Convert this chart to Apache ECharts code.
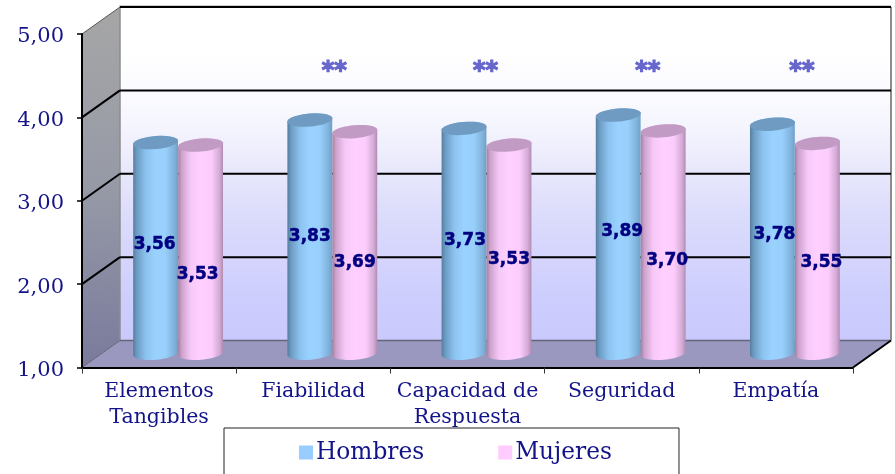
<!DOCTYPE html>
<html><head><meta charset="utf-8">
<style>html,body{margin:0;padding:0;background:#fff}#c{width:895px;height:474px}</style>
<script src="https://cdn.jsdelivr.net/npm/echarts@6/dist/echarts.min.js"></script>
</head><body><div id="c"></div>
<script>
var categories = ['Elementos\nTangibles','Fiabilidad','Capacidad de\nRespuesta','Seguridad','Empatía'];
var hombres = [3.56,3.83,3.73,3.89,3.78];
var mujeres = [3.53,3.69,3.53,3.70,3.55];
var significance = ['','**','**','**','**'];
var yTicks = [1,2,3,4,5];

// label nudges (pixels) relative to the middle of each cylinder
var hombresNudge = [[-1,-3],[0,1],[1,0],[4,-1.5],[2,-4]];
var mujeresNudge = [[-3,26],[0,20.5],[0,11],[4,19.5],[4,14.5]];
var starNudge = [0,2,-1,7,7];

var DX = 38, DY = 27, BW = 45, RY = 6.5, TILT = 0.085, TOP_DROP = 2, BASE_LIFT = 0.7;
var SERIF = '"DejaVu Serif"';

function fmt(v){ return v.toFixed(2).replace('.', ','); }

function wallsItem(params, api){
  var r = params.coordSys, L = r.x, R = r.x + r.width, B = r.y + r.height, T = r.y;
  var kids = [];
  function poly(pts, fill, z){ kids.push({type:'polygon', shape:{points:pts}, style:{fill:fill}, z2:z||0}); }
  function line(a,b,c,d,col,w,z){ kids.push({type:'line', shape:{x1:a,y1:b,x2:c,y2:d}, style:{stroke:col,lineWidth:w}, z2:z||1}); }
  poly([[L+DX,T-DY],[R+DX,T-DY],[R+DX,B-DY],[L+DX,B-DY]], new echarts.graphic.LinearGradient(0,0,0,1,[
    {offset:0,color:'#ffffff'},{offset:0.13,color:'#ffffff'},{offset:0.25,color:'#fbfbff'},{offset:0.37,color:'#f4f4fe'},{offset:0.49,color:'#e8e8fc'},{offset:0.62,color:'#dcdcfc'},{offset:0.88,color:'#cdcdfe'},{offset:1,color:'#c9c9fd'}]));
  poly([[L,T],[L+DX,T-DY],[L+DX,B-DY],[L,B]], new echarts.graphic.LinearGradient(0,0,0.3,1,[
    {offset:0,color:'#a6a6a6'},{offset:0.5,color:'#969aa6'},{offset:1,color:'#7a7a9c'}]));
  poly([[L,B],[L+DX,B-DY],[R+DX,B-DY],[R,B]], '#9a98bf');
  line(L+DX,T-DY,L+DX,B-DY,'#8c8c8c',1.5);
  line(R+DX,T-DY,R+DX,B-DY,'#8c8c8c',2);
  line(L+DX,B-DY,R+DX,B-DY,'#66667a',1.5);
  line(L,B,L+DX,B-DY,'#666677',1);
  line(L,T,L+DX,T-DY,'#555555',1);
  line(L+DX-1,T-DY-1,R+DX,T-DY-1,'#999999',1);
  line(L+DX,T-DY,R+DX,T-DY,'#000000',1.8,2);
  line(R,B,R+DX,B-DY,'#000000',2,2);
  yTicks.slice(1,4).forEach(function(v){
    var y = api.coord([0,v])[1];
    line(L,y,L+DX,y-DY,'#000000',2,2);
    line(L+DX,y-DY,R+DX,y-DY,'#000000',2,2);
  });
  return {type:'group', children:kids};
}

function tiltedArc(cx, cy, from, to, n){
  var pts = [], c = Math.cos(TILT), s = Math.sin(TILT);
  for (var i=0;i<=n;i++){
    var t = from + (to-from)*i/n, x = BW/2*Math.cos(t), y = RY*Math.sin(t);
    pts.push([cx + x*c + y*s, cy - x*s + y*c]);
  }
  return pts;
}

function cylinder(side, stops, topCol){
  return function(params, api){
    var i = api.value(0), v = api.value(1);
    var top = api.coord([i,v]), base = api.coord([i,1]);
    var cx = top[0] + DX/2 + side*BW/2;
    var topY = top[1] - DY/2 + TOP_DROP, baseY = base[1] - DY/2 - BASE_LIFT;
    var bodyPts = tiltedArc(cx, topY, Math.PI, 2*Math.PI, 24).concat(tiltedArc(cx, baseY, 0, Math.PI, 24));
    return {type:'group', children:[
      {type:'polygon', shape:{points:bodyPts}, style:{fill:new echarts.graphic.LinearGradient(0,0,1,0,stops)}},
      {type:'polygon', shape:{points:tiltedArc(cx, topY, 0, 2*Math.PI, 40)}, style:{fill:topCol}, z2:1}
    ]};
  };
}

function labelItem(side, nudge){
  return function(params, api){
    var i = api.value(0), v = api.value(1);
    var top = api.coord([i,v]), base = api.coord([i,1]);
    var x = top[0] + DX/2 + side*BW/2 + nudge[i][0];
    var y = (top[1]+base[1])/2 - DY/2 + nudge[i][1];
    return {type:'text', x:x, y:y, style:{text:fmt(v), fill:'#000080', stroke:'#000080', lineWidth:0.5, fontFamily:'DejaVu Sans', fontWeight:'bold', fontSize:17, align:'center', verticalAlign:'middle'}};
  };
}

function starItem(params, api){
  var i = api.value(0), s = significance[i];
  if (!s) return null;
  var p = api.coord([i,4.55]);
  return {type:'text', x:p[0]+DX/2+starNudge[i], y:p[1], style:{text:s, fill:'#6666cc', stroke:'#6666cc', lineWidth:1.2, fontFamily:'DejaVu Sans', fontWeight:'bold', fontSize:24, align:'center', verticalAlign:'middle'}};
}

function rows(arr){ return arr.map(function(v,i){ return [i,v]; }); }

var chart = echarts.init(document.getElementById('c'), null, {renderer:'canvas'});
chart.setOption({
  animation:false,
  backgroundColor:'#ffffff',
  grid:{left:82, right:42, top:34, bottom:106.5, containLabel:false},
  legend:{
    data:['Hombres','Mujeres'], left:224, top:428, orient:'horizontal',
    backgroundColor:'#fff', borderColor:'#222', borderWidth:1,
    padding:[13,67,30,75], itemGap:74, itemWidth:14, itemHeight:14, icon:'rect',
    textStyle:{fontFamily:SERIF, fontSize:23.3, color:'#14148a', padding:[0,0,0,-2]}
  },
  xAxis:{type:'category', data:categories, z:5,
    axisLine:{lineStyle:{color:'#000',width:2}},
    axisTick:{show:true, alignWithLabel:false, length:6, lineStyle:{color:'#333',width:1}},
    axisLabel:{fontFamily:SERIF, fontSize:20.5, color:'#14148a', lineHeight:26, margin:11, interval:0},
    splitLine:{show:false}
  },
  yAxis:{type:'value', min:1, max:5, interval:1, z:5,
    axisLine:{show:true, lineStyle:{color:'#000',width:2}},
    axisTick:{show:true, length:5, lineStyle:{color:'#000',width:1.5}},
    axisLabel:{fontFamily:SERIF, fontSize:21, color:'#14148a', margin:18, verticalAlign:'top', lineHeight:6, formatter:function(v){return fmt(v);}},
    splitLine:{show:false}
  },
  series:[
    {type:'custom', name:'walls', z:1, silent:true, clip:false, data:[[0,1]], renderItem:wallsItem},
    {type:'custom', name:'Hombres', z:2, clip:false, data:rows(hombres), itemStyle:{color:'#99ccff'},
      encode:{x:0,y:1}, renderItem:cylinder(-1,[{offset:0,color:'#567d9e'},{offset:0.08,color:'#6b9bc2'},{offset:0.28,color:'#8cc2ee'},{offset:0.5,color:'#9ad2ff'},{offset:0.72,color:'#98cffb'},{offset:0.92,color:'#7fb2db'},{offset:1,color:'#6f9fc6'}],'#6f9bc2')},
    {type:'custom', name:'Mujeres', z:3, clip:false, data:rows(mujeres), itemStyle:{color:'#ffccff'},
      encode:{x:0,y:1}, renderItem:cylinder(1,[{offset:0,color:'#a6809f'},{offset:0.08,color:'#cda2cc'},{offset:0.28,color:'#f6c8f8'},{offset:0.5,color:'#ffd0ff'},{offset:0.74,color:'#fccdfc'},{offset:0.92,color:'#d4aad6'},{offset:1,color:'#b08cb0'}],'#c19bc3')},
    {type:'custom', name:'labelsH', z:6, silent:true, clip:false, data:rows(hombres), encode:{x:0,y:1}, renderItem:labelItem(-1,hombresNudge)},
    {type:'custom', name:'labelsM', z:6, silent:true, clip:false, data:rows(mujeres), encode:{x:0,y:1}, renderItem:labelItem(1,mujeresNudge)},
    {type:'custom', name:'stars', z:6, silent:true, clip:false, data:rows(yTicks.map(function(){return 4.55;})), encode:{x:0,y:1}, renderItem:starItem}
  ]
});
</script></body></html>
